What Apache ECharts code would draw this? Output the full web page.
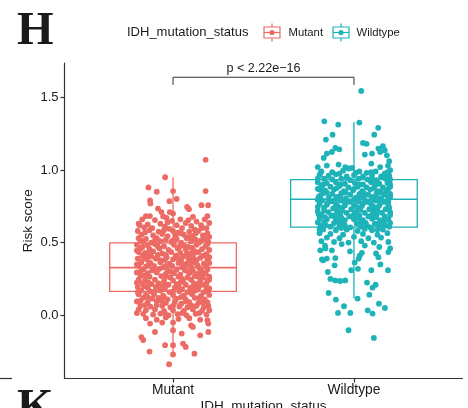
<!DOCTYPE html>
<html>
<head>
<meta charset="utf-8">
<script src="https://cdn.jsdelivr.net/npm/echarts@6/dist/echarts.min.js"></script>
<style>
  html, body { margin: 0; padding: 0; background: #fff; }
  #chart { width: 468px; height: 408px; }
</style>
</head>
<body>
<div id="chart"></div>
<script>
// Risk score by IDH mutation status: jittered samples over boxplots.
const categories = ['Mutant', 'Wildtype'];
const colors = ['#EC6B64', '#1DB3B8'];
const yTicks = [0, 0.5, 1.0, 1.5];

// Box statistics: [lower whisker, Q1, median, Q3, upper whisker]
const mutantBox = [-0.264, 0.165, 0.328, 0.498, 0.948];
const wildtypeBox = [0.115, 0.606, 0.798, 0.934, 1.33];

// Samples as [horizontal jitter, risk score]
const mutantPoints = [
  [0.18,1.07],[-0.044,0.95],[-0.136,0.88],[-0.09,0.85],[0.0,0.855],[0.18,0.855],
  [-0.127,0.79],[-0.125,0.77],[-0.02,0.785],[0.02,0.80],[0.078,0.745],[0.088,0.73],[0.157,0.757],[0.194,0.757],
  [-0.083,0.734],[-0.064,0.71],[-0.018,0.71],[0.0,0.70],[-0.15,0.683],[-0.128,0.683],[-0.055,0.68],[-0.036,0.67],[0.11,0.677],[0.19,0.683],
  [-0.17,0.66],[-0.1,0.655],[-0.005,0.65],[0.04,0.66],[0.13,0.645],[0.175,0.66],[0.2,0.635],
  [-0.19,0.63],[-0.14,0.625],[-0.07,0.63],[0.02,0.62],[0.07,0.635],[0.1,0.615],[0.155,0.62],
  [-0.16,0.605],[-0.115,0.6],[-0.045,0.61],[-0.02,0.595],[0.05,0.6],[0.12,0.59],[0.185,0.6],
  [-0.195,0.58],[-0.13,0.585],[-0.08,0.575],[0.0,0.58],[0.03,0.57],[0.09,0.575],[0.14,0.58],[0.19,0.565],
  [-0.175,0.555],[-0.11,0.55],[-0.06,0.56],[-0.03,0.545],[0.015,0.55],[0.06,0.555],[0.11,0.545],[0.165,0.55],[0.2,0.54],
  [-0.19,0.53],[-0.15,0.525],[-0.09,0.53],[-0.04,0.52],[0.02,0.525],[0.075,0.53],[0.125,0.52],[0.175,0.525],
  [-0.165,0.505],[-0.12,0.5],[-0.07,0.51],[-0.01,0.505],[0.045,0.5],[0.1,0.51],[0.145,0.5],[0.195,0.505],
  [-0.2,0.485],[-0.14,0.48],[-0.1,0.49],[-0.05,0.475],[0.005,0.485],[0.06,0.48],[0.085,0.47],[0.13,0.485],[0.18,0.475],
  [-0.18,0.46],[-0.13,0.455],[-0.075,0.46],[-0.025,0.45],[0.025,0.46],[0.07,0.455],[0.115,0.445],[0.16,0.455],[0.2,0.45],
  [-0.19,0.435],[-0.155,0.43],[-0.11,0.44],[-0.06,0.425],[-0.01,0.435],[0.04,0.43],[0.095,0.425],[0.14,0.435],[0.185,0.42],
  [-0.17,0.41],[-0.12,0.405],[-0.085,0.415],[-0.035,0.4],[0.015,0.41],[0.055,0.405],[0.11,0.4],[0.165,0.41],
  [-0.195,0.39],[-0.145,0.385],[-0.095,0.39],[-0.045,0.38],[0.0,0.385],[0.045,0.375],[0.085,0.39],[0.13,0.38],[0.19,0.385],
  [-0.175,0.365],[-0.125,0.36],[-0.07,0.365],[-0.02,0.355],[0.03,0.36],[0.075,0.355],[0.12,0.365],[0.17,0.355],[0.2,0.36],
  [-0.19,0.34],[-0.15,0.335],[-0.105,0.34],[-0.055,0.33],[-0.005,0.34],[0.05,0.33],[0.1,0.335],[0.145,0.325],[0.185,0.335],
  [-0.165,0.315],[-0.115,0.31],[-0.075,0.32],[-0.03,0.305],[0.02,0.315],[0.065,0.31],[0.11,0.305],[0.155,0.31],
  [-0.2,0.295],[-0.14,0.29],[-0.09,0.295],[-0.04,0.285],[0.005,0.29],[0.04,0.28],[0.09,0.29],[0.135,0.285],[0.18,0.29],
  [-0.18,0.27],[-0.13,0.265],[-0.065,0.27],[-0.015,0.26],[0.03,0.265],[0.08,0.26],[0.12,0.27],[0.165,0.26],[0.2,0.265],
  [-0.19,0.245],[-0.155,0.24],[-0.1,0.245],[-0.05,0.235],[0.0,0.24],[0.055,0.235],[0.1,0.245],[0.15,0.235],[0.19,0.24],
  [-0.17,0.22],[-0.12,0.215],[-0.08,0.22],[-0.025,0.21],[0.02,0.215],[0.07,0.21],[0.115,0.22],[0.16,0.21],
  [-0.195,0.195],[-0.14,0.19],[-0.095,0.195],[-0.045,0.185],[0.01,0.19],[0.05,0.18],[0.095,0.19],[0.14,0.185],[0.185,0.19],
  [-0.175,0.17],[-0.125,0.165],[-0.07,0.17],[-0.02,0.16],[0.035,0.165],[0.08,0.16],[0.125,0.17],[0.17,0.16],
  [-0.19,0.145],[-0.15,0.14],[-0.105,0.145],[-0.055,0.135],[0.0,0.14],[0.06,0.135],[0.105,0.145],[0.155,0.135],[0.2,0.14],
  [-0.165,0.12],[-0.115,0.115],[-0.08,0.12],[-0.03,0.11],[0.02,0.115],[0.07,0.11],[0.12,0.12],[0.175,0.11],
  [-0.2,0.095],[-0.14,0.09],[-0.09,0.095],[-0.04,0.085],[0.01,0.09],[0.045,0.08],[0.09,0.09],[0.14,0.085],[0.19,0.09],
  [-0.18,0.065],[-0.125,0.06],[-0.06,0.065],[-0.015,0.055],[0.035,0.06],[0.08,0.055],[0.13,0.065],[0.17,0.055],
  [-0.19,0.04],[-0.15,0.035],[-0.1,0.04],[-0.05,0.03],[0.0,0.035],[0.06,0.03],[0.11,0.04],[0.16,0.03],[0.2,0.035],
  [-0.165,0.01],[-0.11,0.005],[-0.07,0.012],[-0.025,0.0],[0.025,0.008],[0.075,0.0],[0.125,0.01],[0.185,0.005],
  [-0.15,-0.02],[-0.09,-0.03],[-0.04,-0.015],[0.03,-0.025],[0.09,-0.02],[0.15,-0.03],
  [-0.127,-0.057],[-0.06,-0.05],[0.0,-0.05],[0.19,-0.034],[0.195,-0.057],[0.1,-0.07],[0.11,-0.08],
  [-0.1,-0.115],[0.0,-0.103],[0.048,-0.126],[0.15,-0.138],[0.195,-0.115],
  [-0.175,-0.15],[-0.165,-0.17],[-0.044,-0.206],[0.0,-0.206],[0.055,-0.195],[0.07,-0.218],
  [-0.13,-0.25],[0.0,-0.27],[0.118,-0.264],[-0.022,-0.337],
  [-0.185,0.62],[-0.03,0.64],[0.085,0.655],[0.16,0.6],
  [-0.155,0.57],[-0.05,0.585],[0.045,0.565],[0.125,0.565],
  [-0.18,0.515],[-0.1,0.515],[0.0,0.515],[0.09,0.54],[0.155,0.515],
  [-0.17,0.47],[-0.085,0.475],[0.035,0.47],[0.105,0.465],[0.19,0.49],
  [-0.2,0.445],[-0.135,0.42],[-0.04,0.415],[0.075,0.42],[0.12,0.43],[0.2,0.4],
  [-0.16,0.395],[-0.07,0.38],[0.025,0.395],[0.1,0.37],[0.15,0.395],
  [-0.2,0.35],[-0.135,0.35],[-0.04,0.34],[0.06,0.345],[0.135,0.345],[0.19,0.315],
  [-0.18,0.3],[-0.09,0.31],[-0.01,0.3],[0.085,0.3],[0.16,0.295],
  [-0.155,0.275],[-0.04,0.265],[0.05,0.25],[0.14,0.265],[0.2,0.245],
  [-0.2,0.225],[-0.135,0.225],[-0.05,0.21],[0.04,0.225],[0.135,0.215],[0.185,0.22],
  [-0.16,0.2],[-0.07,0.19],[0.03,0.195],[0.115,0.195],[0.2,0.185],
  [-0.195,0.16],[-0.1,0.165],[0.0,0.165],[0.1,0.165],[0.19,0.165],
  [-0.14,0.125],[-0.05,0.125],[0.045,0.125],[0.145,0.12],
  [-0.18,0.1],[-0.065,0.1],[0.07,0.095],[0.165,0.09],
  [-0.155,0.07],[-0.09,0.07],[0.0,0.065],[0.105,0.065],[0.195,0.065],
  [-0.2,0.015],[-0.045,0.015],[0.05,0.015],[0.145,0.015]
];

const wildtypePoints = [
  [0.04,1.544],[-0.164,1.335],[-0.087,1.312],[0.03,1.326],[0.134,1.29],[0.112,1.243],[-0.118,1.243],[-0.155,1.209],[0.05,1.186],[0.07,1.18],
  [-0.103,1.151],[-0.081,1.142],[-0.122,1.124],[-0.15,1.113],[-0.167,1.083],[0.06,1.106],[0.1,1.113],
  [0.16,1.163],[0.135,1.147],[0.17,1.136],[0.145,1.124],[0.182,1.101],[0.195,1.06],
  [-0.2,1.02],[-0.15,1.03],[-0.085,1.037],[-0.048,1.02],[-0.03,1.01],[-0.01,1.014],[0.096,1.044],[0.145,1.02],[0.188,1.03],[0.2,0.998],
  [-0.18,0.99],[-0.12,0.985],[-0.06,0.995],[0.03,0.99],[0.07,0.98],[0.12,0.99],[0.17,0.975],
  [-0.19,0.965],[-0.14,0.96],[-0.1,0.97],[-0.04,0.955],[0.0,0.965],[0.05,0.955],[0.1,0.965],[0.15,0.955],[0.195,0.96],
  [-0.165,0.94],[-0.12,0.935],[-0.07,0.94],[-0.02,0.93],[0.025,0.94],[0.075,0.935],[0.125,0.93],[0.175,0.94],
  [-0.2,0.915],[-0.15,0.91],[-0.1,0.915],[-0.05,0.905],[0.005,0.91],[0.05,0.9],[0.095,0.915],[0.14,0.905],[0.185,0.91],
  [-0.18,0.89],[-0.13,0.885],[-0.08,0.89],[-0.03,0.88],[0.02,0.885],[0.07,0.88],[0.115,0.89],[0.16,0.88],[0.2,0.885],
  [-0.19,0.865],[-0.16,0.86],[-0.11,0.865],[-0.055,0.855],[-0.005,0.86],[0.045,0.855],[0.09,0.865],[0.135,0.855],[0.18,0.86],
  [-0.17,0.84],[-0.12,0.835],[-0.07,0.84],[-0.02,0.83],[0.03,0.835],[0.08,0.83],[0.125,0.84],[0.17,0.83],[0.2,0.835],
  [-0.195,0.815],[-0.14,0.81],[-0.095,0.815],[-0.045,0.805],[0.01,0.81],[0.055,0.805],[0.1,0.815],[0.15,0.805],[0.19,0.81],
  [-0.175,0.79],[-0.125,0.785],[-0.075,0.79],[-0.025,0.78],[0.025,0.785],[0.075,0.78],[0.12,0.79],[0.165,0.78],
  [-0.19,0.765],[-0.15,0.76],[-0.1,0.765],[-0.05,0.755],[0.0,0.76],[0.045,0.755],[0.095,0.765],[0.14,0.755],[0.19,0.76],
  [-0.165,0.74],[-0.115,0.735],[-0.065,0.74],[-0.015,0.73],[0.035,0.735],[0.085,0.73],[0.13,0.74],[0.175,0.73],
  [-0.2,0.715],[-0.14,0.71],[-0.09,0.715],[-0.04,0.705],[0.01,0.71],[0.06,0.705],[0.105,0.715],[0.155,0.705],[0.2,0.71],
  [-0.18,0.69],[-0.125,0.685],[-0.075,0.69],[-0.025,0.68],[0.03,0.685],[0.08,0.68],[0.125,0.69],[0.17,0.68],
  [-0.19,0.665],[-0.15,0.66],[-0.1,0.665],[-0.05,0.655],[0.0,0.66],[0.05,0.655],[0.1,0.665],[0.145,0.655],[0.19,0.66],
  [-0.165,0.64],[-0.11,0.635],[-0.06,0.64],[0.015,0.63],[0.065,0.635],[0.115,0.63],[0.165,0.64],
  [-0.185,0.615],[-0.13,0.61],[-0.08,0.615],[-0.02,0.605],[0.04,0.61],[0.09,0.605],[0.14,0.615],[0.195,0.61],
  [-0.17,0.59],[-0.1,0.585],[-0.04,0.59],[0.02,0.58],[0.1,0.585],[0.16,0.59],
  [-0.19,0.565],[-0.13,0.56],[-0.06,0.555],[0.05,0.56],[0.13,0.555],[0.185,0.565],
  [-0.15,0.535],[-0.08,0.53],[0.0,0.54],[0.08,0.53],[0.15,0.535],
  [-0.18,0.51],[-0.11,0.505],[-0.03,0.5],[0.04,0.51],[0.11,0.5],[0.19,0.505],
  [-0.16,0.48],[-0.068,0.49],[0.06,0.48],[0.14,0.47],
  [-0.186,0.447],[-0.158,0.46],[-0.122,0.447],[-0.022,0.44],[0.2,0.46],[0.19,0.435],
  [0.044,0.43],[0.032,0.41],[0.122,0.425],[0.135,0.40],
  [-0.177,0.385],[-0.15,0.39],[-0.103,0.394],[0.004,0.363],[0.026,0.39],[-0.17,0.378],
  [-0.107,0.344],[0.146,0.35],
  [-0.144,0.298],[-0.015,0.31],[0.022,0.32],[0.096,0.31],[0.188,0.31],
  [-0.13,0.25],[-0.103,0.24],[-0.076,0.236],[-0.048,0.24],[0.072,0.225],[0.103,0.19],[0.12,0.21],
  [-0.14,0.154],[0.085,0.142],[-0.1,0.108],[0.02,0.115],
  [-0.055,0.062],[0.076,0.034],[0.103,0.012],[0.138,0.08],[0.171,0.05],[-0.088,0.016],[-0.02,0.016],
  [-0.03,-0.103],[0.11,-0.156],
  [-0.185,0.98],[-0.08,0.975],[0.01,0.98],[0.095,0.985],[0.185,0.985],
  [-0.2,0.94],[-0.04,0.945],[0.1,0.94],[0.2,0.935],
  [-0.17,0.9],[-0.075,0.9],[0.03,0.9],[0.12,0.9],[0.2,0.9],
  [-0.2,0.87],[-0.095,0.875],[0.0,0.87],[0.11,0.875],[0.19,0.87],
  [-0.15,0.845],[-0.045,0.845],[0.055,0.84],[0.15,0.845],
  [-0.185,0.825],[-0.075,0.82],[0.03,0.82],[0.125,0.82],[0.2,0.815],
  [-0.2,0.795],[-0.1,0.8],[0.0,0.795],[0.1,0.8],[0.19,0.785],
  [-0.145,0.775],[-0.05,0.775],[0.05,0.77],[0.145,0.775],
  [-0.2,0.745],[-0.09,0.75],[0.015,0.745],[0.11,0.745],[0.195,0.74],
  [-0.165,0.72],[-0.065,0.72],[0.035,0.725],[0.13,0.72],
  [-0.195,0.695],[-0.1,0.695],[0.0,0.695],[0.1,0.69],[0.2,0.69],
  [-0.16,0.675],[-0.07,0.67],[0.025,0.67],[0.12,0.675],[0.17,0.665],
  [-0.2,0.64],[-0.085,0.645],[0.04,0.645],[0.14,0.64],[0.2,0.635],
  [-0.155,0.62],[-0.05,0.62],[0.07,0.62],[0.17,0.62],
  [-0.19,0.59],[-0.07,0.6],[0.06,0.595],[0.13,0.59]
];

// Significance bracket between the two groups
const pLabel = 'p < 2.22e\u221216';
const bracket = { from: 1, to: 2, top: 1.638, drop: 1.585, text: 1.70 };

const FONT = '"Liberation Sans", Arial, sans-serif';
const INK = '#1a1a1a';

const boxes = [mutantBox, wildtypeBox];
const groups = [mutantPoints, wildtypePoints];

const chart = echarts.init(document.getElementById('chart'), null, { renderer: 'canvas' });

function boxRender(params, api) {
  const i = params.dataIndex;
  const x = api.value(0);
  const s = [1, 2, 3, 4, 5].map(k => api.value(k));
  const half = api.size([0.7, 0])[0] / 2;
  const c = api.coord([x, 0])[0];
  const y = s.map(v => api.coord([x, v])[1]);
  const style = { stroke: colors[i], fill: 'none', lineWidth: 1.3 };
  return {
    type: 'group',
    children: [
      { type: 'line', shape: { x1: c, y1: y[4], x2: c, y2: y[3] }, style },
      { type: 'line', shape: { x1: c, y1: y[1], x2: c, y2: y[0] }, style },
      { type: 'rect', shape: { x: c - half, y: y[3], width: 2 * half, height: y[1] - y[3] }, style },
      { type: 'line', shape: { x1: c - half, y1: y[2], x2: c + half, y2: y[2] }, style: Object.assign({}, style, { lineWidth: 1.6 }) }
    ]
  };
}

function bracketRender(params, api) {
  const a = api.coord([bracket.from, bracket.top]);
  const b = api.coord([bracket.to, bracket.top]);
  const drop = api.coord([bracket.from, bracket.drop])[1];
  const t = api.coord([(bracket.from + bracket.to) / 2, bracket.text]);
  return {
    type: 'group',
    children: [
      { type: 'polyline', shape: { points: [[a[0], drop], a, b, [b[0], drop]] },
        style: { stroke: '#333', fill: 'none', lineWidth: 1 } },
      { type: 'text', x: t[0], y: t[1],
        style: { text: pLabel, fill: INK, font: '12.6px ' + FONT, align: 'center', verticalAlign: 'middle' } }
    ]
  };
}

function legendIcon(x, y, color) {
  const st = { stroke: color, fill: 'none', lineWidth: 1.2 };
  return [
    { type: 'line', shape: { x1: x + 8, y1: y - 9, x2: x + 8, y2: y + 9 }, style: st },
    { type: 'rect', shape: { x: x, y: y - 5.5, width: 16, height: 11 }, style: { stroke: color, fill: '#fff', lineWidth: 1.2 } },
    { type: 'line', shape: { x1: x, y1: y, x2: x + 16, y2: y }, style: st },
    { type: 'circle', shape: { cx: x + 8, cy: y, r: 2.6 }, style: { fill: color } }
  ];
}

const legendY = 32.5;

chart.setOption({
  animation: false,
  backgroundColor: '#fff',
  grid: { left: 64.5, right: 5.5, top: 63, bottom: 29.5, containLabel: false, outerBoundsMode: 'none' },
  xAxis: {
    type: 'value', min: 0.4, max: 2.6,
    splitLine: { show: false },
    axisLine: { show: true, onZero: false, lineStyle: { color: '#333', width: 1.2 } },
    axisTick: { show: true, length: 4, customValues: [1, 2], lineStyle: { color: '#333', width: 1.2 } },
    axisLabel: { customValues: [1, 2], formatter: v => categories[Math.round(v) - 1] || '',
      color: INK, fontSize: 13.8, fontFamily: FONT, margin: 5 },
    name: 'IDH_mutation_status', nameLocation: 'middle', nameGap: 21, nameMoveOverlap: false,
    nameTextStyle: { color: INK, fontSize: 13.5, fontFamily: FONT }
  },
  yAxis: {
    type: 'value', min: -0.435, max: 1.736,
    splitLine: { show: false },
    axisLine: { show: true, onZero: false, lineStyle: { color: '#333', width: 1.2 } },
    axisTick: { show: true, length: 4, customValues: yTicks, lineStyle: { color: '#333', width: 1.2 } },
    axisLabel: { customValues: yTicks, formatter: v => v.toFixed(1),
      color: INK, fontSize: 13, fontFamily: FONT, margin: 6 },
    name: 'Risk score', nameLocation: 'middle', nameGap: 29, nameRotate: 90, nameMoveOverlap: false,
    nameTextStyle: { color: INK, fontSize: 13.5, fontFamily: FONT }
  },
  series: [
    { type: 'custom', renderItem: boxRender, z: 1,
      data: boxes.map((b, i) => [i + 1].concat(b)) },
    ...groups.map((pts, i) => ({
      type: 'scatter', name: categories[i], z: 2,
      symbolSize: 5.8,
      itemStyle: { color: colors[i], opacity: 1 },
      data: pts.map(p => [i + 1 + p[0], p[1]])
    })),
    { type: 'custom', renderItem: bracketRender, z: 3, data: [[1.5, bracket.top]] }
  ],
  graphic: [
    { type: 'text', x: 17, y: 32, style: { text: 'H', font: 'bold 47px "Liberation Serif", "DejaVu Serif", serif', fill: '#1a1a1a', verticalAlign: 'middle' } },
    { type: 'text', x: 17, y: 409, style: { text: 'K', font: 'bold 47px "Liberation Serif", "DejaVu Serif", serif', fill: '#1a1a1a', verticalAlign: 'middle' } },
    { type: 'line', shape: { x1: 0, y1: 378.5, x2: 12, y2: 378.5 }, style: { stroke: '#333', lineWidth: 1.2 } },
    { type: 'text', x: 127, y: legendY, style: { text: 'IDH_mutation_status', font: '13px ' + FONT, fill: INK, verticalAlign: 'middle' } },
    ...legendIcon(264, legendY, colors[0]),
    { type: 'text', x: 288.5, y: legendY, style: { text: categories[0], font: '11.3px ' + FONT, fill: INK, verticalAlign: 'middle' } },
    ...legendIcon(333, legendY, colors[1]),
    { type: 'text', x: 356.5, y: legendY, style: { text: categories[1], font: '11.3px ' + FONT, fill: INK, verticalAlign: 'middle' } }
  ]
});
</script>
</body>
</html>
